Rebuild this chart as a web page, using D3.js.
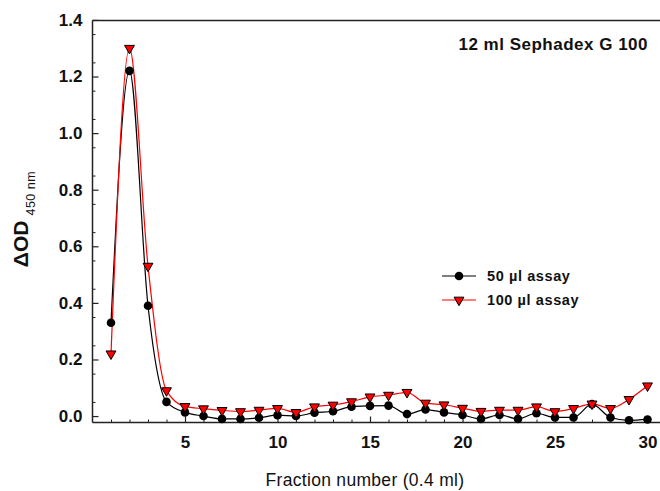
<!DOCTYPE html>
<html><head><meta charset="utf-8">
<script src="https://cdn.jsdelivr.net/npm/d3@7"></script>
<style>body{margin:0;background:#fff}svg{display:block}text{font-family:"Liberation Sans",Arial,sans-serif;fill:#111}</style>
</head><body><svg id="c" width="660" height="491"></svg>
<script>
const fractions = d3.range(1, 31);
const assay50 = [0.33,1.22,0.39,0.05,0.013,0.0,-0.01,-0.01,-0.006,0.003,0.0,0.012,0.017,0.033,0.036,0.037,0.007,0.023,0.013,0.004,-0.01,0.004,-0.01,0.01,-0.005,-0.005,0.042,-0.005,-0.015,-0.012];
const assay100 = [0.22,1.30,0.53,0.09,0.034,0.026,0.02,0.016,0.021,0.027,0.013,0.033,0.039,0.051,0.068,0.074,0.084,0.046,0.04,0.028,0.017,0.021,0.021,0.033,0.016,0.027,0.043,0.027,0.059,0.107];
const yTicks = [0.0,0.2,0.4,0.6,0.8,1.0,1.2,1.4];
const xTicks = [5,10,15,20,25,30];
const seriesNames = ["50 \u00b5l assay","100 \u00b5l assay"];
const annotation = "12 ml Sephadex G 100";

const svg = d3.select("#c");
const x = d3.scaleLinear().domain([0, 31]).range([92.5, 92.5 + 31*18.5]);
const y = d3.scaleLinear().domain([-0.021, 1.398]).range([422, 20.5]);

// axes frame lines
const g = svg.append("g");
g.append("line").attr("x1",92.5).attr("x2",660).attr("y1",20.5).attr("y2",20.5).attr("stroke","#222").attr("stroke-width",1.5);
g.append("line").attr("x1",92.5).attr("x2",660).attr("y1",422.5).attr("y2",422.5).attr("stroke","#222").attr("stroke-width",1.5);
g.append("line").attr("x1",92.5).attr("x2",92.5).attr("y1",20.5).attr("y2",422.5).attr("stroke","#222").attr("stroke-width",1.5);

// y axis
const yAxis = d3.axisLeft(y).tickValues(yTicks).tickFormat(d3.format(".1f")).tickSize(-6).tickPadding(10);
const ya = svg.append("g").attr("transform","translate(92.5,0)").call(yAxis);
ya.select(".domain").remove();
ya.selectAll("line").attr("stroke","#222").attr("stroke-width",1.2);
ya.selectAll("text").attr("font-size",17).attr("font-weight","bold").attr("fill","#111").attr("font-family","Liberation Sans, Arial");
const yMinor = d3.range(0.05, 1.4, 0.1);
const yma = svg.append("g").attr("transform","translate(92.5,0)").call(d3.axisLeft(y).tickValues(yMinor).tickSize(-3).tickFormat(""));
yma.select(".domain").remove();
yma.selectAll("line").attr("stroke","#222");

// x axis
const xAxis = d3.axisBottom(x).tickValues(xTicks).tickSize(-6).tickPadding(13);
const xa = svg.append("g").attr("transform","translate(0,422.5)").call(xAxis);
xa.select(".domain").remove();
xa.selectAll("line").attr("stroke","#222").attr("stroke-width",1.2);
xa.selectAll("text").attr("font-size",17).attr("font-weight","bold").attr("fill","#111").attr("font-family","Liberation Sans, Arial");
const xMinor = fractions.filter(d => d % 5 !== 0);
const xma = svg.append("g").attr("transform","translate(0,422.5)").call(d3.axisBottom(x).tickValues(xMinor).tickSize(-3).tickFormat(""));
xma.select(".domain").remove();
xma.selectAll("line").attr("stroke","#222");

// titles
svg.append("text").attr("x",365).attr("y",486).attr("text-anchor","middle").attr("font-size",17.5).attr("letter-spacing",0.3).text("Fraction number (0.4 ml)");
const yt = svg.append("text").attr("transform","translate(28,219) rotate(-90)").attr("text-anchor","middle");
yt.append("tspan").attr("font-size",21).attr("font-weight","bold").text("\u0394OD");
yt.append("tspan").attr("font-size",12.5).attr("dx",5).attr("dy",7).attr("letter-spacing",0.5).text("450 nm");

svg.append("text").attr("x",648).attr("y",50).attr("text-anchor","end").attr("font-size",17).attr("letter-spacing",0.5).attr("font-weight","bold").text(annotation);

// lines
const line = d3.line().x((d,i)=>x(fractions[i])).y(d=>y(d)).curve(d3.curveMonotoneX);
svg.append("path").datum(assay50).attr("d",line).attr("fill","none").attr("stroke","#000").attr("stroke-width",1.2);
svg.append("path").datum(assay100).attr("d",line).attr("fill","none").attr("stroke","#ff0000").attr("stroke-width",1.2);

const tri = d3.symbol().type(d3.symbolTriangle).size(42);
function triangle(sel){ sel.attr("d",tri).attr("fill","#ff0000").attr("stroke","#000").attr("stroke-width",1); }

svg.append("g").selectAll("circle").data(assay50).join("circle")
  .attr("cx",(d,i)=>x(fractions[i])).attr("cy",d=>y(d)).attr("r",4.3).attr("fill","#000");
svg.append("g").selectAll("path").data(assay100).join("path")
  .attr("transform",(d,i)=>`translate(${x(fractions[i])},${y(d)}) rotate(180)`).call(triangle);

// legend
const lg = svg.append("g");
lg.append("line").attr("x1",442).attr("x2",476).attr("y1",276).attr("y2",276).attr("stroke","#000").attr("stroke-width",1.2);
lg.append("circle").attr("cx",459).attr("cy",276).attr("r",4.3).attr("fill","#000");
lg.append("text").attr("x",487).attr("y",281).attr("font-size",14.5).attr("letter-spacing",0.6).attr("font-weight","bold").text(seriesNames[0]);
lg.append("line").attr("x1",442).attr("x2",476).attr("y1",300).attr("y2",300).attr("stroke","#ff0000").attr("stroke-width",1.2);
lg.append("path").attr("transform","translate(459,300) rotate(180)").call(triangle);
lg.append("text").attr("x",487).attr("y",305).attr("font-size",14.5).attr("letter-spacing",0.6).attr("font-weight","bold").text(seriesNames[1]);
</script></body></html>
